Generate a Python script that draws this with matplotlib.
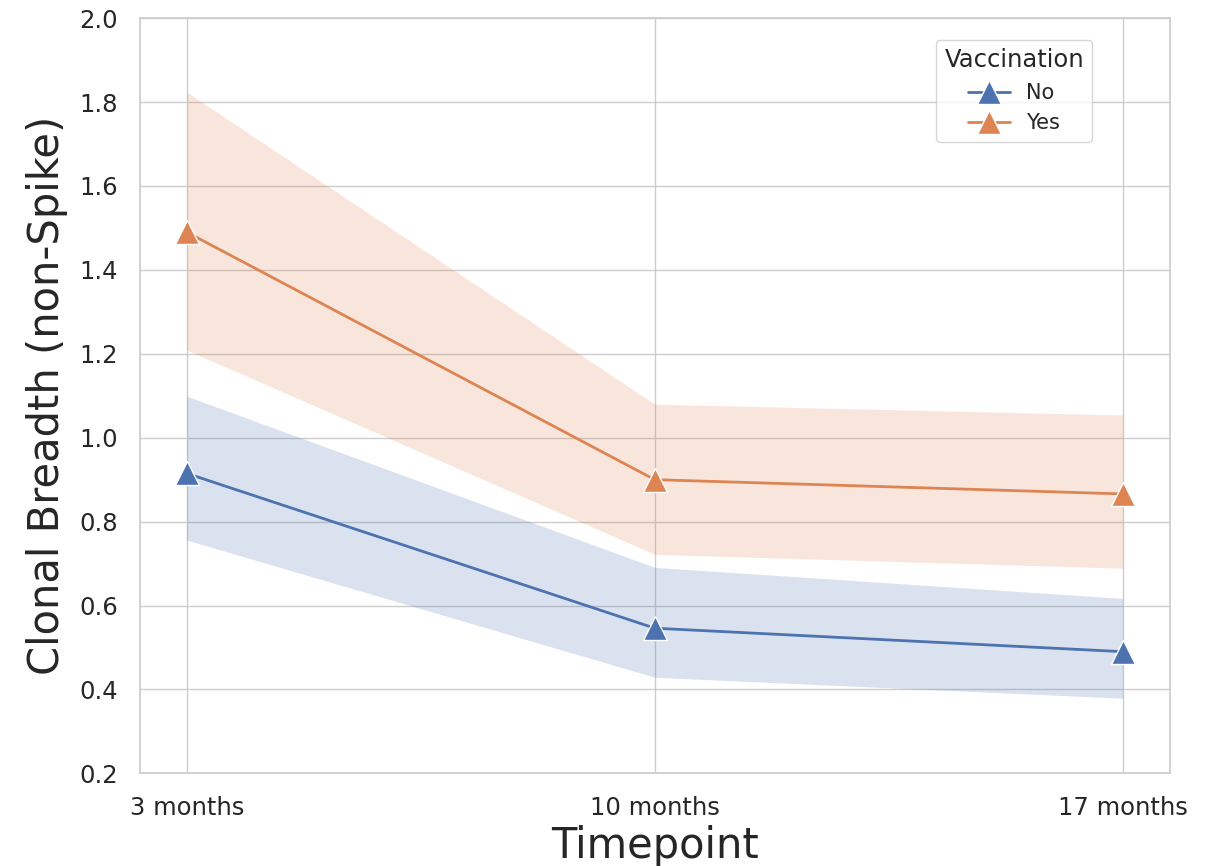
import numpy as np
import matplotlib
matplotlib.use("Agg")
import matplotlib.pyplot as plt
import seaborn as sns

sns.set_theme(style="whitegrid")

timepoints = ["3 months", "10 months", "17 months"]

# mean clonal breadth and 95% CI per group
no_mean = [0.915, 0.546, 0.490]
no_low = [0.756, 0.429, 0.379]
no_high = [1.099, 0.691, 0.617]

yes_mean = [1.490, 0.900, 0.866]
yes_low = [1.209, 0.722, 0.689]
yes_high = [1.824, 1.080, 1.054]

pal = sns.color_palette("deep")
x = np.arange(len(timepoints))

fig = plt.figure(figsize=(12.17, 8.66), dpi=100)
ax = fig.add_axes([0.115, 0.107, 0.846, 0.872])

for label, mean, lo, hi, col in [("No", no_mean, no_low, no_high, pal[0]),
                                 ("Yes", yes_mean, yes_low, yes_high, pal[1])]:
    ax.fill_between(x, lo, hi, color=col, alpha=0.2, linewidth=0)
    ax.plot(x, mean, color=col, marker="^", markersize=17, lw=2,
            markeredgecolor="white", markeredgewidth=1, label=label)

ax.set_xticks(x)
ax.set_xticklabels(timepoints)
ax.set_xlim(-0.1, 2.1)
ax.set_ylim(0.2, 2.0)
ax.set_yticks(np.arange(0.2, 2.01, 0.2))
ax.tick_params(axis="both", labelsize=17.5, pad=10)

ax.set_xlabel("Timepoint", fontsize=30, labelpad=4)
ax.set_ylabel("Clonal Breadth (non-Spike)", fontsize=30, labelpad=8)

leg = ax.legend(title="Vaccination", loc="upper right", bbox_to_anchor=(0.925, 0.971),
                borderaxespad=0, fontsize=15, title_fontsize=17.5, frameon=True)

fig.savefig("out.png", dpi=100)
